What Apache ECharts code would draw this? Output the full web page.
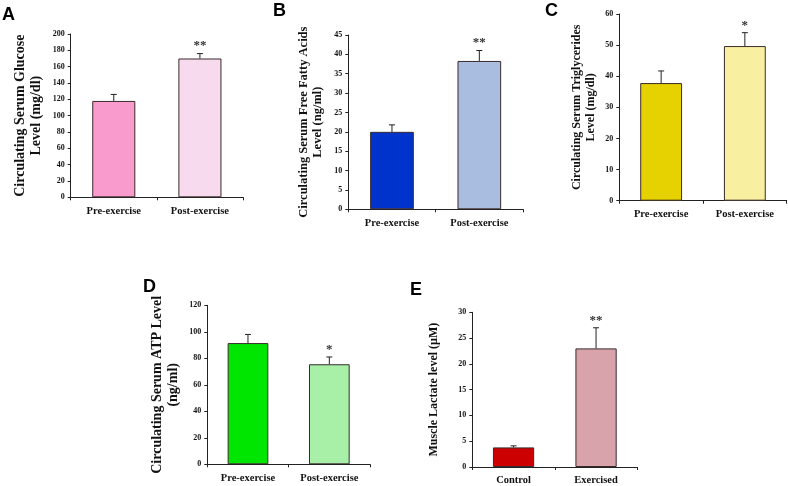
<!DOCTYPE html>
<html>
<head>
<meta charset="utf-8">
<script src="https://cdn.jsdelivr.net/npm/echarts@6/dist/echarts.min.js"></script>
<style>
html,body{margin:0;padding:0;background:#fff;}
#chart{width:788px;height:486px;}
</style>
</head>
<body>
<div id="chart"></div>
<script>
// ---- data ----
const panelLetters = ['A', 'B', 'C', 'D', 'E'];
const catsExercise = ['Pre-exercise', 'Post-exercise'];
const catsLactate = ['Control', 'Exercised'];

const valuesA = [118, 170];
const errTopA = [126, 176];
const starsA = ['', '**'];
const titleA = 'Circulating Serum Glucose\nLevel (mg/dl)';

const valuesB = [20, 38.3];
const errTopB = [21.8, 41];
const starsB = ['', '**'];
const titleB = 'Circulating Serum Free Fatty Acids\nLevel (ng/ml)';

const valuesC = [37.8, 49.7];
const errTopC = [41.7, 54];
const starsC = ['', '*'];
const titleC = 'Circulating Serum Triglycerides\nLevel (mg/dl)';

const valuesD = [91.5, 75.5];
const errTopD = [98, 81];
const starsD = ['', '*'];
const titleD = 'Circulating Serum ATP Level\n(ng/ml)';

const valuesE = [3.8, 23];
const errTopE = [4.1, 27];
const starsE = ['', '**'];
const titleE = 'Muscle Lactate level (\u00b5M)';

const axisMax = [200, 45, 60, 120, 30];
const axisStep = [20, 5, 10, 20, 5];

// ---- layout / style ----
const panels = [
  {cats: catsExercise, vals: valuesA, err: errTopA, stars: starsA, title: titleA, colors: ['#f99ccd', '#f8daee'],
   grid: {left: 70.7, top: 34, width: 172.3, height: 163.3}, gap: 26, tfs: 14, letter: [2, 6]},
  {cats: catsExercise, vals: valuesB, err: errTopB, stars: starsB, title: titleB, colors: ['#0033cc', '#a9bde0'],
   grid: {left: 348.3, top: 35, width: 174.7, height: 174.3}, gap: 23, tfs: 12.5, letter: [273, 2]},
  {cats: catsExercise, vals: valuesC, err: errTopC, stars: starsC, title: titleC, colors: ['#e6d200', '#f8f0a0'],
   grid: {left: 619.3, top: 14, width: 167.4, height: 186.7}, gap: 21, tfs: 12, letter: [545, 2]},
  {cats: catsExercise, vals: valuesD, err: errTopD, stars: starsD, title: titleD, colors: ['#00e600', '#a8f0a8'],
   grid: {left: 207.3, top: 305.3, width: 162.7, height: 159}, gap: 26, tfs: 14, letter: [143, 278]},
  {cats: catsLactate, vals: valuesE, err: errTopE, stars: starsE, title: titleE, colors: ['#cc0000', '#d9a3ab'],
   grid: {left: 472.3, top: 312.3, width: 165, height: 155}, gap: 31, tfs: 12, letter: [410, 281]}
];

const serif = '"Liberation Serif", "DejaVu Serif", serif';
const grids = [], xAxes = [], yAxes = [], series = [], graphics = [];

panels.forEach((p, i) => {
  grids.push(Object.assign({containLabel: false}, p.grid));
  xAxes.push({
    type: 'category', gridIndex: i, data: p.cats,
    axisLine: {lineStyle: {color: '#222', width: 1}},
    axisTick: {show: true, length: 3, lineStyle: {color: '#222'}},
    axisLabel: {fontFamily: serif, fontWeight: 'bold', fontSize: 10.5, color: '#111', margin: 8}
  });
  yAxes.push({
    type: 'value', gridIndex: i, min: 0, max: axisMax[i], interval: axisStep[i],
    name: p.title, nameLocation: 'middle', nameGap: p.gap,
    nameTextStyle: {fontFamily: serif, fontWeight: 'bold', fontSize: p.tfs, color: '#111', lineHeight: p.tfs + 2},
    axisLine: {show: true, lineStyle: {color: '#222', width: 1}},
    axisTick: {show: true, length: 3, lineStyle: {color: '#222'}},
    axisLabel: {fontFamily: serif, fontWeight: 'bold', fontSize: 8, color: '#111', margin: 6},
    splitLine: {show: false}
  });
  series.push({
    type: 'bar', xAxisIndex: i, yAxisIndex: i, barWidth: '50%',
    data: p.vals.map((v, k) => ({value: v, itemStyle: {color: p.colors[k], borderColor: '#3a2a2a', borderWidth: 1}})),
    silent: true, animation: false
  });
  series.push({
    type: 'custom', xAxisIndex: i, yAxisIndex: i, animation: false, silent: true, z: 5,
    data: p.vals.map((v, k) => [k, p.err[k], v]),
    renderItem: (params, api) => {
      const x = api.value(0), top = api.value(1), base = api.value(2);
      const a = api.coord([x, base]);
      const b = api.coord([x, top]);
      const star = p.stars[params.dataIndex];
      const children = [
        {type: 'line', shape: {x1: a[0], y1: a[1], x2: b[0], y2: b[1]}, style: {stroke: '#222', lineWidth: 1}},
        {type: 'line', shape: {x1: b[0] - 3, y1: b[1], x2: b[0] + 3, y2: b[1]}, style: {stroke: '#222', lineWidth: 1}}
      ];
      if (star) {
        children.push({type: 'text', x: b[0], y: b[1] - 1,
          style: {text: star, fill: '#333', font: 'bold 13px ' + serif, textAlign: 'center', textVerticalAlign: 'bottom'}});
      }
      return {type: 'group', children};
    }
  });
  graphics.push({type: 'text', left: p.letter[0], top: p.letter[1],
    style: {text: panelLetters[i], font: 'bold 18px "Liberation Sans", Arial, sans-serif', fill: '#000'}});
});

const chart = echarts.init(document.getElementById('chart'), null, {renderer: 'canvas'});
chart.setOption({
  backgroundColor: '#fff',
  animation: false,
  grid: grids, xAxis: xAxes, yAxis: yAxes, series: series, graphic: graphics
});
</script>
</body>
</html>
